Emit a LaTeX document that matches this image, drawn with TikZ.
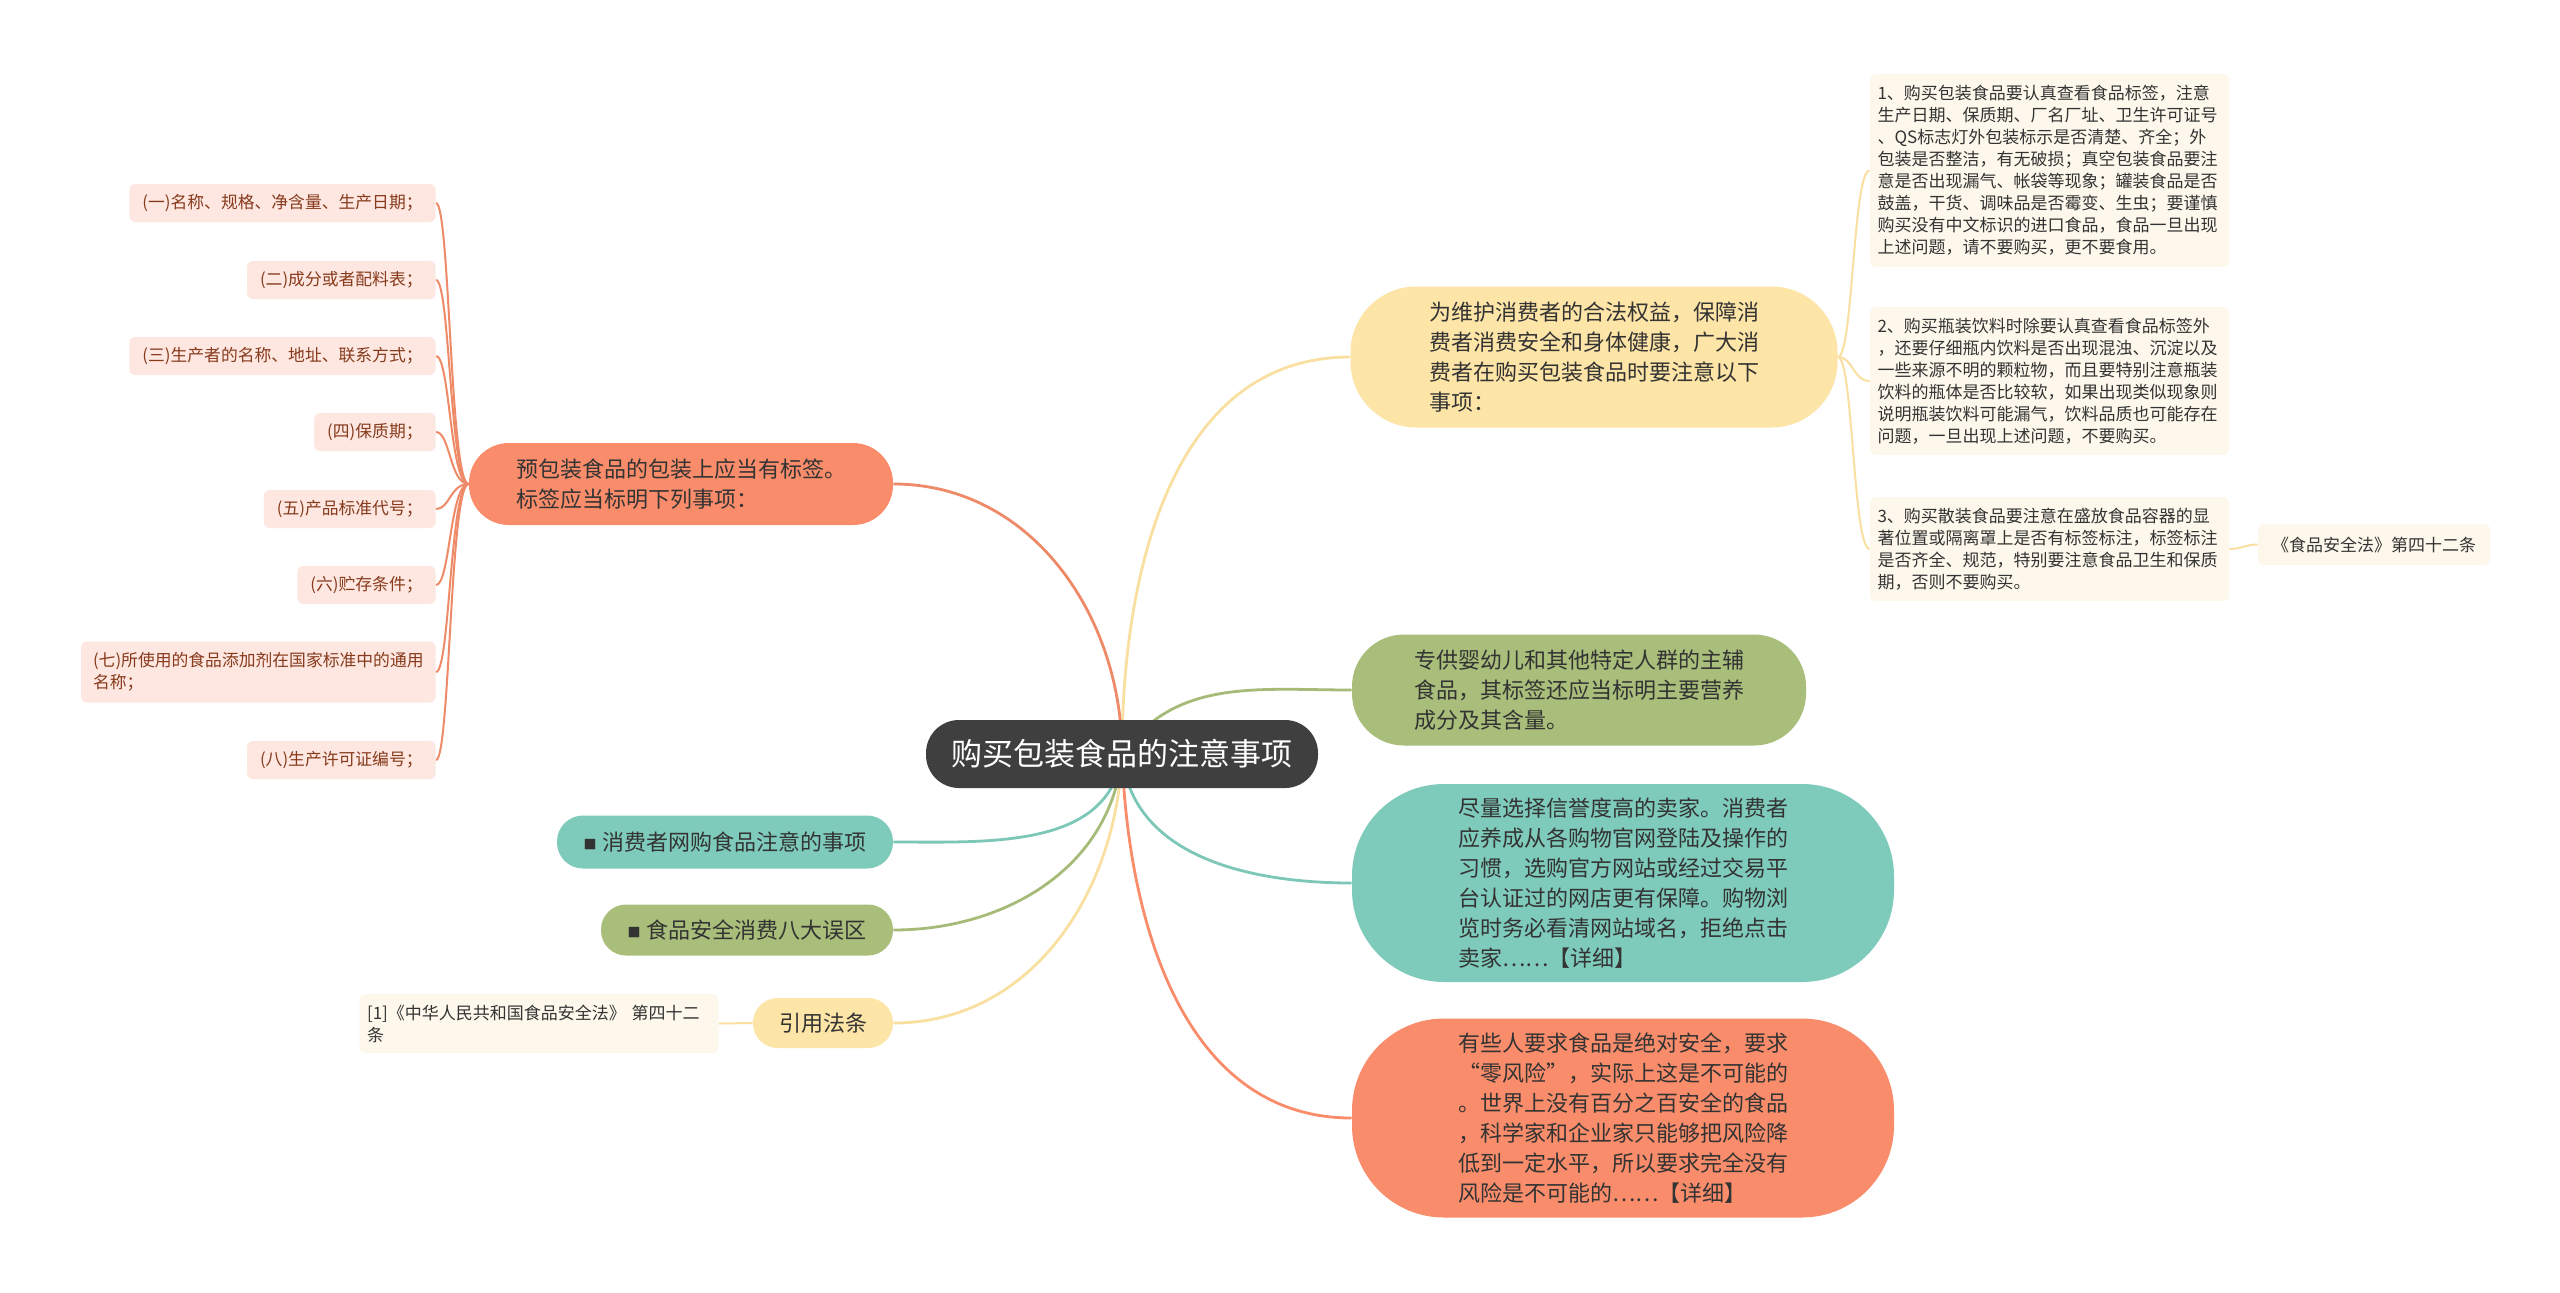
\documentclass[tikz,border=0pt]{standalone}
\usepackage{fontspec}
\setmainfont{Noto Sans CJK SC}
\usetikzlibrary{calc}
\pgfdeclarelayer{bg}
\pgfsetlayers{bg,main}
\definecolor{rootc}{HTML}{3F3F3F}
\definecolor{yelc}{HTML}{FDE4A7}
\definecolor{grnc}{HTML}{A8BE7A}
\definecolor{tealc}{HTML}{7ECABB}
\definecolor{salc}{HTML}{F98D6B}
\definecolor{pinkc}{HTML}{FDE7E0}
\definecolor{creamc}{HTML}{FDF8EB}
\definecolor{leaftxt}{HTML}{873A1C}
\definecolor{txtc}{HTML}{333333}
\definecolor{lyel}{HTML}{F9DFA0}
\definecolor{lgrn}{HTML}{A6BB78}
\definecolor{lteal}{HTML}{7CC7B8}
\definecolor{lsal}{HTML}{EE8A68}
\newcommand\mysq{{\fontsize{6.5pt}{6.5pt}\selectfont\raisebox{0.6pt}{■}}\hspace{3pt}}
\tikzset{
  rootbox/.style={fill=rootc, text=white, rounded corners=16.5pt, inner sep=0pt,
    font=\fontsize{15.5pt}{20pt}\selectfont},
  pill/.style={inner sep=0pt, align=left, text=txtc, font=\fontsize{11pt}{15pt}\selectfont},
  leaf/.style={fill=pinkc, text=leaftxt, rounded corners=3pt, inner xsep=6.5pt, inner ysep=0pt,
    minimum height=19pt, anchor=east, align=left, font=\fontsize{8.4pt}{11pt}\selectfont},
  subleaf/.style={fill=creamc, text=txtc, rounded corners=3pt, inner xsep=3.75pt, inner ysep=0pt,
    text width=172pt, align=left, font=\fontsize{8.5pt}{11pt}\selectfont},
  mainedge/.style={line width=1.4pt},
  subedge/.style={line width=1pt},
}
\begin{document}
\begin{tikzpicture}[x=0.5pt,y=-0.5pt]
\useasboundingbox (0,0) rectangle (2560,1292);
% root
\node[rootbox, minimum width=196pt, minimum height=34pt] (root) at (1122,754) {购买包装食品的注意事项};
% right main nodes
\node[pill, fill=yelc, minimum width=243.5pt, minimum height=70.5pt, rounded corners=33pt] (R1) at (1594,357)
  {为维护消费者的合法权益，保障消\\费者消费安全和身体健康，广大消\\费者在购买包装食品时要注意以下\\事项：};
\node[pill, fill=grnc, minimum width=227pt, minimum height=55.5pt, rounded corners=26pt] (R2) at (1579,690)
  {专供婴幼儿和其他特定人群的主辅\\食品，其标签还应当标明主要营养\\成分及其含量。};
\node[pill, fill=tealc, minimum width=271pt, minimum height=99pt, rounded corners=46pt] (R3) at (1623,883)
  {尽量选择信誉度高的卖家。消费者\\应养成从各购物官网登陆及操作的\\习惯，选购官方网站或经过交易平\\台认证过的网店更有保障。购物浏\\览时务必看清网站域名，拒绝点击\\卖家……【详细】};
\node[pill, fill=salc, minimum width=271pt, minimum height=99.5pt, rounded corners=46pt] (R4) at (1623,1118)
  {有些人要求食品是绝对安全，要求\\“零风险”，实际上这是不可能的\\。世界上没有百分之百安全的食品\\，科学家和企业家只能够把风险降\\低到一定水平，所以要求完全没有\\风险是不可能的……【详细】};
% left main nodes
\node[pill, fill=salc, minimum width=212pt, minimum height=41pt, rounded corners=20pt] (L1) at (681,484)
  {预包装食品的包装上应当有标签。\\标签应当标明下列事项：};
\node[pill, fill=tealc, minimum width=168pt, minimum height=26.5pt, rounded corners=13pt] (L2) at (725,842)
  {\mysq 消费者网购食品注意的事项};
\node[pill, fill=grnc, minimum width=146pt, minimum height=25.5pt, rounded corners=12.5pt] (L3) at (747,930)
  {\mysq 食品安全消费八大误区};
\node[pill, fill=yelc, minimum width=70pt, minimum height=25pt, rounded corners=12.4pt] (L4) at (823,1023)
  {引用法条};
\node[subleaf, minimum height=29.5pt] (L4c) at (539,1023.5)
  {[1]《中华人民共和国食品安全法》 第四十二\\条};
% left leaves
\node[leaf] (c1) at (436,203) {(一)名称、规格、净含量、生产日期；};
\node[leaf] (c2) at (436,280) {(二)成分或者配料表；};
\node[leaf] (c3) at (436,356) {(三)生产者的名称、地址、联系方式；};
\node[leaf] (c4) at (436,432) {(四)保质期；};
\node[leaf] (c5) at (436,509) {(五)产品标准代号；};
\node[leaf] (c6) at (436,585) {(六)贮存条件；};
\node[leaf, minimum height=30.5pt, inner xsep=6pt] (c7) at (436,672) {(七)所使用的食品添加剂在国家标准中的通用\\名称；};
\node[leaf] (c8) at (436,760) {(八)生产许可证编号；};
% right sub leaves
\node[subleaf, minimum height=96.5pt] (S1) at (2049.5,170.5)
  {1、购买包装食品要认真查看食品标签，注意\\生产日期、保质期、厂名厂址、卫生许可证号\\、QS标志灯外包装标示是否清楚、齐全；外\\包装是否整洁，有无破损；真空包装食品要注\\意是否出现漏气、帐袋等现象；罐装食品是否\\鼓盖，干货、调味品是否霉变、生虫；要谨慎\\购买没有中文标识的进口食品，食品一旦出现\\上述问题，请不要购买，更不要食用。};
\node[subleaf, minimum height=74pt] (S2) at (2049.5,381)
  {2、购买瓶装饮料时除要认真查看食品标签外\\，还要仔细瓶内饮料是否出现混浊、沉淀以及\\一些来源不明的颗粒物，而且要特别注意瓶装\\饮料的瓶体是否比较软，如果出现类似现象则\\说明瓶装饮料可能漏气，饮料品质也可能存在\\问题，一旦出现上述问题，不要购买。};
\node[subleaf, minimum height=52pt] (S3) at (2049.5,549)
  {3、购买散装食品要注意在盛放食品容器的显\\著位置或隔离罩上是否有标签标注，标签标注\\是否齐全、规范，特别要注意食品卫生和保质\\期，否则不要购买。};
\node[subleaf, text width=, minimum width=116pt, minimum height=20.5pt, inner xsep=0pt] (S3c) at (2374,544.5)
  {《食品安全法》第四十二条};
% helper coordinates for brackets
\coordinate (lb) at (450,484);
\coordinate (rb) at (1853,357);
\begin{pgfonlayer}{bg}
\fill[white] (0,0) rectangle (2560,1292);
% root edges
\draw[mainedge, lyel] (root.center) to[out=90,in=180] (R1.west);
\draw[mainedge, lgrn] (root.center) to[out=55,in=180] (R2.west);
\draw[mainedge, lteal] (root.center) to[out=-85,in=180] (R3.west);
\draw[mainedge, salc] (root.center) to[out=-88,in=180] (R4.west);
\draw[mainedge, lsal] (root.center) to[out=90,in=0] (L1.east);
\draw[mainedge, lteal] (root.center) to[out=-97,in=0] (L2.east);
\draw[mainedge, lgrn] (root.center) to[out=-95,in=0] (L3.east);
\draw[mainedge, lyel] (root.center) to[out=-92,in=0] (L4.east);
% left bracket
\foreach \c in {c1,c2,c3,c4,c5,c6,c7,c8}
  \draw[subedge, lsal] (L1.west) .. controls (lb) and (lb |- \c.east) .. (\c.east);
% right bracket
\foreach \c in {S1,S2,S3}
  \draw[subedge, lyel] (R1.east) .. controls (rb) and (rb |- \c.west) .. (\c.west);
\draw[subedge, lyel] (S3.east) to[out=0,in=180] (S3c.west);
\draw[subedge, lyel] (L4.west) -- (L4c.east);
\end{pgfonlayer}
\end{tikzpicture}
\end{document}
